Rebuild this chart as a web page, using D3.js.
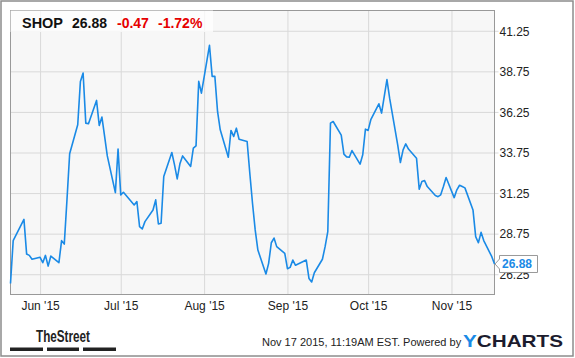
<!DOCTYPE html>
<html>
<head>
<meta charset="utf-8">
<script src="https://cdn.jsdelivr.net/npm/d3@7"></script>
<style>
  body { margin: 0; background: #fff; }
  svg { display: block; font-family: Arial, "Liberation Sans", sans-serif; }
</style>
</head>
<body>
<svg id="chart" width="575" height="358"></svg>
<script>
// SHOP daily closes
const dates = [
  "2015-05-21","2015-05-22","2015-05-26","2015-05-27","2015-05-28","2015-05-29",
  "2015-06-01","2015-06-02","2015-06-03","2015-06-04","2015-06-05",
  "2015-06-08","2015-06-09","2015-06-10","2015-06-11","2015-06-12",
  "2015-06-15","2015-06-16","2015-06-17","2015-06-18","2015-06-19",
  "2015-06-22","2015-06-23","2015-06-24","2015-06-25","2015-06-26",
  "2015-06-29","2015-06-30","2015-07-01","2015-07-02",
  "2015-07-06","2015-07-07","2015-07-08","2015-07-09","2015-07-10",
  "2015-07-13","2015-07-14","2015-07-15","2015-07-16","2015-07-17",
  "2015-07-20","2015-07-21","2015-07-22","2015-07-23","2015-07-24",
  "2015-07-27","2015-07-28","2015-07-29","2015-07-30","2015-07-31",
  "2015-08-03","2015-08-04","2015-08-05","2015-08-06","2015-08-07",
  "2015-08-10","2015-08-11","2015-08-12","2015-08-13","2015-08-14",
  "2015-08-17","2015-08-18","2015-08-19","2015-08-20","2015-08-21",
  "2015-08-24","2015-08-25","2015-08-26","2015-08-27","2015-08-28",
  "2015-08-31","2015-09-01","2015-09-02","2015-09-03","2015-09-04",
  "2015-09-08","2015-09-09","2015-09-10","2015-09-11",
  "2015-09-14","2015-09-15","2015-09-16","2015-09-17","2015-09-18",
  "2015-09-21","2015-09-22","2015-09-23","2015-09-24","2015-09-25",
  "2015-09-28","2015-09-29","2015-09-30","2015-10-01","2015-10-02",
  "2015-10-05","2015-10-06","2015-10-07","2015-10-08","2015-10-09",
  "2015-10-12","2015-10-13","2015-10-14","2015-10-15","2015-10-16",
  "2015-10-19","2015-10-20","2015-10-21","2015-10-22","2015-10-23",
  "2015-10-26","2015-10-27","2015-10-28","2015-10-29","2015-10-30",
  "2015-11-02","2015-11-03","2015-11-04","2015-11-05","2015-11-06",
  "2015-11-09","2015-11-10","2015-11-11","2015-11-12","2015-11-13",
  "2015-11-16","2015-11-17"
];
const closes = [
  25.68, 28.32, 29.63, 27.49, 27.41, 27.17,
  27.29, 26.96, 27.41, 26.75, 27.37,
  26.96, 28.32, 28.11, 30.83, 33.67,
  35.46, 38.13, 38.65, 35.56, 35.52,
  36.96, 35.42, 35.93, 34.74, 33.54,
  31.28, 33.96, 31.14, 31.30,
  30.52, 30.73, 29.18, 29.04, 29.49,
  30.21, 30.83, 29.35, 29.39, 32.27,
  33.75, 32.99, 32.12, 33.05, 33.54,
  32.89, 34.02, 34.16, 38.13, 37.41,
  40.35, 38.44, 38.44, 36.28, 35.15,
  33.46, 35.11, 34.74, 35.25, 34.57,
  34.43, 32.47, 30.62, 28.98, 27.74,
  26.26, 26.92, 28.19, 28.48, 27.95,
  27.54, 26.59, 26.67, 27.12, 26.80,
  27.12, 25.99, 25.77, 26.34,
  27.17, 27.95, 28.87, 35.56, 35.66,
  34.82, 33.65, 33.48, 33.46, 33.87,
  33.03, 33.61, 35.19, 35.11, 35.77,
  36.75, 36.18, 37.21, 38.24, 37.10,
  34.22, 33.13, 33.91, 34.28, 33.96,
  33.40, 31.49, 31.96, 32.02, 31.65,
  31.10, 31.03, 31.14, 31.65, 32.21,
  30.97, 31.45, 31.73, 31.65, 31.57,
  30.21, 28.57, 28.19, 28.83, 28.32,
  27.33, 26.88
];
const yTicks = [26.25, 28.75, 31.25, 33.75, 36.25, 38.75, 41.25];
const monthTicks = ["2015-06-01","2015-07-01","2015-08-01","2015-09-01","2015-10-01","2015-11-01"];
const ticker = "SHOP";
const change = "-0.47";
const changePct = "-1.72%";

const parse = d3.timeParse("%Y-%m-%d");
const data = dates.map((d, i) => ({ date: parse(d), close: closes[i] }));
const last = data[data.length - 1];

const plotL = 10.5, plotR = 494.5, plotT = 10.5, plotB = 294.5;
const svg = d3.select("#chart");

// outer frame
svg.append("rect")
  .attr("x", 1).attr("y", 1).attr("width", 572).attr("height", 355)
  .attr("fill", "#fff").attr("stroke", "#8c8c8c").attr("stroke-width", 1.5);

const x = d3.scaleTime()
  .domain(d3.extent(data, d => d.date))
  .range([plotL, plotR]);

const y = d3.scaleLinear()
  .domain([25, 42.5])
  .range([plotB, plotT]);

// plot background
svg.append("rect")
  .attr("x", plotL).attr("y", plotT)
  .attr("width", plotR - plotL).attr("height", plotB - plotT)
  .attr("fill", "#f7f7f7");

// horizontal grid + right labels
const yAxis = svg.append("g")
  .attr("transform", "translate(" + plotL + ",0)")
  .call(d3.axisRight(y).tickValues(yTicks).tickFormat(d3.format(".2f"))
    .tickSize(plotR - plotL + 4).tickPadding(1));
yAxis.select(".domain").remove();
yAxis.selectAll("line").attr("stroke", "#d9d9d9");
yAxis.selectAll("text")
  .attr("fill", "#222").attr("font-size", 12)
  .attr("font-family", "Arial, 'Liberation Sans', sans-serif")
  .attr("dy", "0.36em");

// vertical grid + month labels
const xAxis = svg.append("g")
  .attr("transform", "translate(0," + plotB + ")")
  .call(d3.axisBottom(x).tickValues(monthTicks.map(parse))
    .tickFormat(d3.timeFormat("%b '%y")).tickSize(-(plotB - plotT)).tickPadding(5));
xAxis.select(".domain").remove();
xAxis.selectAll("line").attr("stroke", "#d9d9d9");
xAxis.selectAll("text")
  .attr("fill", "#222").attr("font-size", 12)
  .attr("font-family", "Arial, 'Liberation Sans', sans-serif")
  .attr("dy", "0.9em");

// plot border
svg.append("rect")
  .attr("x", plotL).attr("y", plotT)
  .attr("width", plotR - plotL).attr("height", plotB - plotT)
  .attr("fill", "none").attr("stroke", "#999");

// price line
svg.append("path")
  .datum(data)
  .attr("fill", "none")
  .attr("stroke", "#1a8ae6")
  .attr("stroke-width", 1.6)
  .attr("stroke-linejoin", "round")
  .attr("d", d3.line().x(d => x(d.date)).y(d => y(d.close)));

// header band
svg.append("rect")
  .attr("x", plotL).attr("y", plotT).attr("width", 202.5).attr("height", 21.5)
  .attr("fill", "#fff").attr("fill-opacity", 0.75);

const head = svg.append("g").attr("font-size", 14).attr("font-weight", "bold");
head.append("text").attr("x", 22).attr("y", 28).attr("fill", "#111")
  .attr("textLength", 41).attr("lengthAdjust", "spacingAndGlyphs").text(ticker);
head.append("text").attr("x", 72).attr("y", 28).attr("fill", "#111").text(d3.format(".2f")(last.close));
head.append("text").attr("x", 117).attr("y", 28).attr("fill", "#e60000").text(change);
head.append("text").attr("x", 158).attr("y", 28).attr("fill", "#e60000").text(changePct);

// last value tag
const ly = y(last.close);
svg.append("path")
  .attr("d", "M" + (plotR + 0.5) + "," + ly +
    " L499.5," + (ly - 5) + " L499.5," + (ly - 8.5) + " L537.5," + (ly - 8.5) +
    " L537.5," + (ly + 8.5) + " L499.5," + (ly + 8.5) + " L499.5," + (ly + 5) + " Z")
  .attr("fill", "#fff").attr("stroke", "#999");
svg.append("text")
  .attr("x", 502).attr("y", ly + 4.5)
  .attr("font-size", 12).attr("font-weight", "bold").attr("fill", "#1a8ae6")
  .text(d3.format(".2f")(last.close));

// footer: TheStreet logo
svg.append("text")
  .attr("x", 36).attr("y", 342)
  .attr("font-size", 16).attr("font-weight", "bold").attr("fill", "#222")
  .attr("textLength", 54).attr("lengthAdjust", "spacingAndGlyphs")
  .text("TheStreet");
[[10, 43], [47, 79], [83, 116]].forEach(b => {
  svg.append("rect").attr("x", b[0]).attr("y", 347.5)
    .attr("width", b[1] - b[0]).attr("height", 3.5).attr("fill", "#222");
});

svg.append("text")
  .attr("x", 262).attr("y", 345.5)
  .attr("font-size", 11).attr("fill", "#222")
  .text("Nov 17 2015, 11:19AM EST.  Powered by");

const yc = svg.append("text")
  .attr("x", 463).attr("y", 346.5)
  .attr("font-size", 17).attr("font-weight", "bold")
  .attr("textLength", 100).attr("lengthAdjust", "spacingAndGlyphs");
yc.append("tspan").attr("fill", "#1a8ae6").text("Y");
yc.append("tspan").attr("fill", "#1c1c2e").text("CHARTS");
</script>
</body>
</html>
